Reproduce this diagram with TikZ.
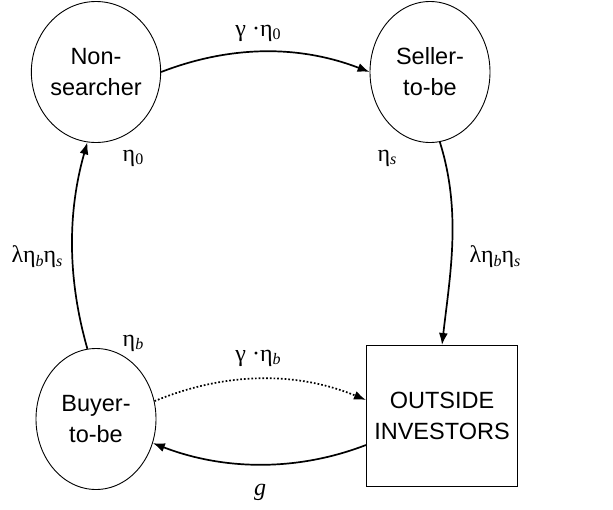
\documentclass[tikz,border=0pt]{standalone}
\usepackage{fontspec}
\setmainfont{Liberation Serif}
\newfontfamily\nodefont{Liberation Sans}
\usetikzlibrary{shapes.geometric,arrows.meta}
\newcommand\mysub[1]{\raisebox{-0.35ex}{\fontsize{16}{16}\selectfont #1}}
\begin{document}
\begin{tikzpicture}[x=1pt,y=-1pt,
  state/.style={draw,ellipse,line width=0.9pt,inner sep=0pt,minimum width=120pt,minimum height=141pt,align=center,font=\nodefont\fontsize{23.5}{31}\selectfont},
  boxnode/.style={draw,rectangle,line width=1pt,inner sep=0pt,minimum width=151pt,minimum height=141pt,align=center,font=\nodefont\fontsize{23.5}{31}\selectfont},
  flow/.style={line width=1.7pt,-{Latex[length=12pt,width=9pt]}},
  lab/.style={font=\fontsize{24}{28}\selectfont,inner sep=0pt}]
\useasboundingbox (0,0) rectangle (613,509);
\node[state] (ns) at (96,72) {Non-\\searcher};
\node[state] (ss) at (430,72) {Seller-\\to-be};
\node[state] (bu) at (96,419) {Buyer-\\to-be};
\node[boxnode] (oi) at (442,416) {OUTSIDE\\INVESTORS};
\draw[flow] (ns.east) .. controls +(70,-27) and +(-70,-27) .. (ss.west);
\draw[flow] (ss.-82) .. controls +(22,70) and +(8,-70) .. (oi.north);
\draw[flow] (bu.97) .. controls +(-20,-70) and +(-20,70) .. (ns.-97);
\draw[flow,dotted] (bu.17) .. controls +(70,-29) and +(-70,-29) .. ([yshift=16pt]oi.west);
\draw[flow] ([yshift=-29pt]oi.west) .. controls +(-70,27) and +(70,27) .. (bu.-23);
\node[lab] (l1) at (258,33) {γ ·η\mysub{0}};
\node[lab] (l2) at (258,358) {γ ·η\mysub{\textit{b}}};
\node[lab] (l3) at (133,158) {η\mysub{0}};
\node[lab] (l4) at (387,158) {η\mysub{\textit{s}}};
\node[lab] (l5) at (133,343) {η\mysub{\textit{b}}};
\node[lab] (l6) at (37,257) {λη\mysub{\textit{b}}η\mysub{\textit{s}}};
\node[lab] (l7) at (495,257) {λη\mysub{\textit{b}}η\mysub{\textit{s}}};
\node[lab] (l8) at (260,492) {\textit{g}};
\end{tikzpicture}
\end{document}
